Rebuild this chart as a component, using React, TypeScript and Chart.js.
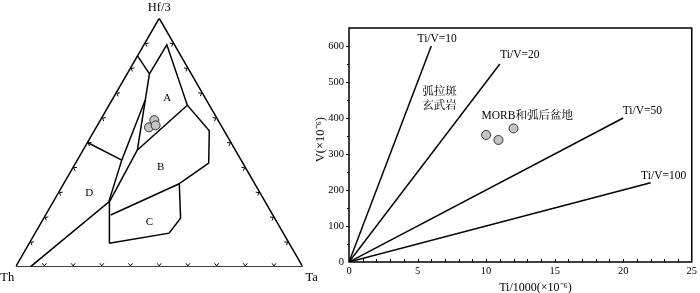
import React, { useEffect, useRef } from "react";
import { Chart, registerables } from "chart.js";

Chart.register(...registerables);

// ---------- Left panel: Hf/3 – Th – Ta ternary, values in % as [Th, Ta, Hf/3] ----------
const ternaryCorners = ["Hf/3", "Th", "Ta"];
const ternaryOutline = [[0, 0, 100], [100, 0, 0], [0, 100, 0], [0, 0, 100]];
const lineLeftEdgeToA = [[15.1, 0, 84.9], [14.6, 7.8, 77.6]];
const lineFieldOuter = [
  [14.6, 7.8, 77.6], [2.7, 8.0, 89.3], [7.7, 27.3, 65.0], [5.2, 40.1, 54.7],
  [11.9, 46.4, 41.7], [26.3, 40.3, 33.4], [32.8, 47.7, 19.5], [39.8, 46.7, 13.5],
  [62.7, 27.9, 9.4], [54.3, 19.6, 26.1],
];
const lineALeft = [[14.6, 7.8, 77.6], [34.1, 18.9, 47.0]];
const lineAB = [[34.1, 18.9, 47.0], [7.7, 27.3, 65.0]];
const lineBLeft = [[34.1, 18.9, 47.0], [54.3, 19.6, 26.1]];
const lineBC = [[56.5, 22.7, 20.8], [26.3, 40.3, 33.4]];
const lineDTop = [[50.0, 0, 50.0], [41.6, 15.5, 42.9]];
const lineDRight = [[21.4, 11.6, 67.0], [41.6, 15.5, 42.9], [54.6, 19.4, 26.0], [94.8, 5.2, 0]];
const fieldNames = ["A", "B", "C", "D"];
const fieldLabelTh = [13.3, 29.4, 44.4, 59.5];
const fieldLabelTa = [18.9, 30.4, 37.5, 10.7];
const fieldLabelHf = [67.8, 40.2, 18.1, 29.8];
const sampleTh = [22.2, 25.5, 22.8];
const sampleTa = [18.8, 18.4, 20.3];
const sampleHf = [59.0, 56.1, 56.9];

// ---------- Right panel: Ti/1000 – V ----------
const tiVRatios = [10, 20, 50, 100];
const ratioLineEndTi = [6, 11, 20, 22];
const ratioLabels = ["Ti/V=10", "Ti/V=20", "Ti/V=50", "Ti/V=100"];
const sampleTi = [10.0, 10.9, 12.0];
const sampleV = [353, 339, 371];
const xTickValues = [0, 5, 10, 15, 20, 25];
const yTickValues = [0, 100, 200, 300, 400, 500, 600];
const fieldTextArc = ["弧拉斑", "玄武岩"];
const fieldTextMorb = "MORB和弧后盆地";
const xTitle = "Ti/1000(×10⁻⁶)";
const yTitle = "V(×10⁻⁶)";

// label anchors (layout)
const ratioLabelPos = [[6.43, 619], [12.46, 575], [21.4, 420], [22.95, 240]];
const arcTextPos = [[6.6, 473], [6.6, 433]];
const morbTextPos = [13.0, 406];

const SERIF = '"Liberation Serif", "Noto Serif CJK SC", "Noto Sans CJK SC", serif';
const S3 = Math.sqrt(3) / 2;
const tern = (p: number[]) => ({ x: p[1] + p[2] / 2, y: p[2] * S3 });

const ternaryDecor = {
  id: "ternaryDecor",
  afterDraw(chart: any) {
    const { ctx, scales } = chart;
    const xs = scales.x, ys = scales.y;
    const px = (p: number[]) => {
      const c = tern(p);
      return [xs.getPixelForValue(c.x), ys.getPixelForValue(c.y)];
    };
    ctx.save();
    const corners = [px([0, 0, 100]), px([100, 0, 0]), px([0, 100, 0])];
    const centroid = [
      (corners[0][0] + corners[1][0] + corners[2][0]) / 3,
      (corners[0][1] + corners[1][1] + corners[2][1]) / 3,
    ];
    ctx.strokeStyle = "#000";
    ctx.lineWidth = 1;
    for (let e = 0; e < 3; e++) {
      const a = corners[e], b = corners[(e + 1) % 3];
      const len = Math.hypot(b[0] - a[0], b[1] - a[1]);
      const u = [(b[0] - a[0]) / len, (b[1] - a[1]) / len];
      let n = [-u[1], u[0]];
      const mid = [(a[0] + b[0]) / 2, (a[1] + b[1]) / 2];
      if ((centroid[0] - mid[0]) * n[0] + (centroid[1] - mid[1]) * n[1] < 0) n = [-n[0], -n[1]];
      for (let k = 1; k < 10; k++) {
        const t = k / 10;
        const p = [a[0] + (b[0] - a[0]) * t, a[1] + (b[1] - a[1]) * t];
        const apex = [p[0] + n[0] * 0.8, p[1] + n[1] * 0.8];
        ctx.beginPath();
        ctx.moveTo(apex[0] + n[0] * 2.6 - u[0] * 2, apex[1] + n[1] * 2.6 - u[1] * 2);
        ctx.lineTo(apex[0], apex[1]);
        ctx.lineTo(apex[0] + n[0] * 2.6 + u[0] * 2, apex[1] + n[1] * 2.6 + u[1] * 2);
        ctx.stroke();
      }
    }
    ctx.fillStyle = "#000";
    ctx.font = "12.5px " + SERIF;
    ctx.textAlign = "center";
    ctx.textBaseline = "middle";
    ctx.fillText(ternaryCorners[0], corners[0][0], corners[0][1] - 11);
    ctx.fillText(ternaryCorners[1], corners[1][0] - 8.5, corners[1][1] + 11);
    ctx.fillText(ternaryCorners[2], corners[2][0] + 9, corners[2][1] + 11);
    ctx.font = "11px " + SERIF;
    fieldNames.forEach((nm, i) => {
      const q = px([fieldLabelTh[i], fieldLabelTa[i], fieldLabelHf[i]]);
      ctx.fillText(nm, q[0], q[1]);
    });
    ctx.restore();
  },
};

const rightDecor = {
  id: "rightDecor",
  afterDraw(chart: any) {
    const { ctx, chartArea: a, scales } = chart;
    const x = scales.x, y = scales.y;
    ctx.save();
    ctx.strokeStyle = "#000";
    ctx.lineWidth = 1.5;
    ctx.strokeRect(a.left, a.top, a.right - a.left, a.bottom - a.top);
    ctx.lineWidth = 1;
    for (let v = 1; v < 25; v++) {
      const p = Math.round(x.getPixelForValue(v)) + 0.5;
      ctx.beginPath();
      ctx.moveTo(p, a.bottom);
      ctx.lineTo(p, a.bottom - 3);
      ctx.stroke();
    }
    for (let v = 50; v <= 600; v += 50) {
      const p = Math.round(y.getPixelForValue(v)) + 0.5;
      ctx.beginPath();
      ctx.moveTo(a.left, p);
      ctx.lineTo(a.left - (v % 100 === 0 ? 3 : 2), p);
      ctx.stroke();
    }
    ctx.fillStyle = "#000";
    ctx.textAlign = "center";
    ctx.textBaseline = "middle";
    ctx.font = "11.5px " + SERIF;
    ratioLabels.forEach((t, i) => {
      ctx.fillText(t, x.getPixelForValue(ratioLabelPos[i][0]), y.getPixelForValue(ratioLabelPos[i][1]));
    });
    ctx.font = "11.5px " + SERIF;
    fieldTextArc.forEach((t, i) => {
      ctx.fillText(t, x.getPixelForValue(arcTextPos[i][0]), y.getPixelForValue(arcTextPos[i][1]));
    });
    ctx.fillText(fieldTextMorb, x.getPixelForValue(morbTextPos[0]), y.getPixelForValue(morbTextPos[1]));
    ctx.font = "12px " + SERIF;
    ctx.fillText(xTitle, x.getPixelForValue(13.6), a.bottom + 25.5);
    ctx.font = "12.5px " + SERIF;
    ctx.translate(a.left - 28.5, y.getPixelForValue(340));
    ctx.rotate(-Math.PI / 2);
    ctx.fillText(yTitle, 0, 0);
    ctx.restore();
  },
};

function TernaryChart() {
  const ref = useRef<HTMLCanvasElement>(null);
  useEffect(() => {
    const lineSet = (pts: number[][]) => ({
      data: pts.map(tern),
      showLine: true,
      borderColor: "#000",
      borderWidth: 1.5,
      pointRadius: 0,
      fill: false,
    });
    const chart = new Chart(ref.current as HTMLCanvasElement, {
      type: "scatter",
      data: {
        datasets: [
          {
            data: sampleTh.map((th, i) => tern([th, sampleTa[i], sampleHf[i]])),
            pointRadius: 4.5,
            pointBackgroundColor: "#c4c4c4",
            pointBorderColor: "#333",
            pointBorderWidth: 1,
            showLine: false,
          } as any,
          lineSet(ternaryOutline),
          lineSet(lineLeftEdgeToA),
          lineSet(lineFieldOuter),
          lineSet(lineALeft),
          lineSet(lineAB),
          lineSet(lineBLeft),
          lineSet(lineBC),
          lineSet(lineDTop),
          lineSet(lineDRight),
        ],
      },
      options: {
        responsive: false,
        animation: false,
        devicePixelRatio: 1,
        layout: { padding: { left: 15.7, right: 27.3, top: 18.3, bottom: 26.3 } },
        plugins: { legend: { display: false }, tooltip: { enabled: false } },
        scales: {
          x: { type: "linear", min: 0, max: 100, display: false },
          y: { type: "linear", min: 0, max: 100 * S3, display: false },
        },
      } as any,
      plugins: [ternaryDecor],
    });
    return () => chart.destroy();
  }, []);
  return <canvas ref={ref} width={330} height={293} style={{ position: "absolute", left: 0, top: 0 }} />;
}

function TiVChart() {
  const ref = useRef<HTMLCanvasElement>(null);
  useEffect(() => {
    const chart = new Chart(ref.current as HTMLCanvasElement, {
      type: "scatter",
      data: {
        datasets: [
          {
            data: sampleTi.map((t, i) => ({ x: t, y: sampleV[i] })),
            pointRadius: 4.5,
            pointBackgroundColor: "#c4c4c4",
            pointBorderColor: "#333",
            pointBorderWidth: 1,
            showLine: false,
          } as any,
          ...tiVRatios.map((r, i) => ({
            data: [
              { x: 0, y: 0 },
              { x: ratioLineEndTi[i], y: (ratioLineEndTi[i] * 1000) / r },
            ],
            showLine: true,
            borderColor: "#000",
            borderWidth: 1.5,
            pointRadius: 0,
          })),
        ],
      },
      options: {
        responsive: false,
        animation: false,
        devicePixelRatio: 1,
        layout: { padding: { left: 0, right: 5, top: 28, bottom: 0 } },
        plugins: { legend: { display: false }, tooltip: { enabled: false } },
        scales: {
          x: {
            type: "linear",
            min: 0,
            max: 25,
            afterBuildTicks: (s: any) => { s.ticks = xTickValues.map((v) => ({ value: v })); },
            afterFit: (s: any) => { s.height = 31; },
            grid: { display: false, drawTicks: false },
            border: { display: false },
            ticks: { padding: 3, color: "#000", font: { family: SERIF, size: 10.5 }, maxRotation: 0 },
          },
          y: {
            type: "linear",
            min: 0,
            max: 650,
            afterBuildTicks: (s: any) => { s.ticks = yTickValues.map((v) => ({ value: v })); },
            afterFit: (s: any) => { s.width = 49; },
            grid: { display: false, drawTicks: false },
            border: { display: false },
            ticks: { padding: 5, color: "#000", font: { family: SERIF, size: 10.5 } },
          },
        },
      } as any,
      plugins: [rightDecor],
    });
    return () => chart.destroy();
  }, []);
  return <canvas ref={ref} width={400} height={293} style={{ position: "absolute", left: 300, top: 0 }} />;
}

export default function App() {
  return (
    <div style={{ position: "fixed", left: 0, top: 0, width: 700, height: 293, background: "#fff", overflow: "hidden" }}>
      <TernaryChart />
      <TiVChart />
    </div>
  );
}
